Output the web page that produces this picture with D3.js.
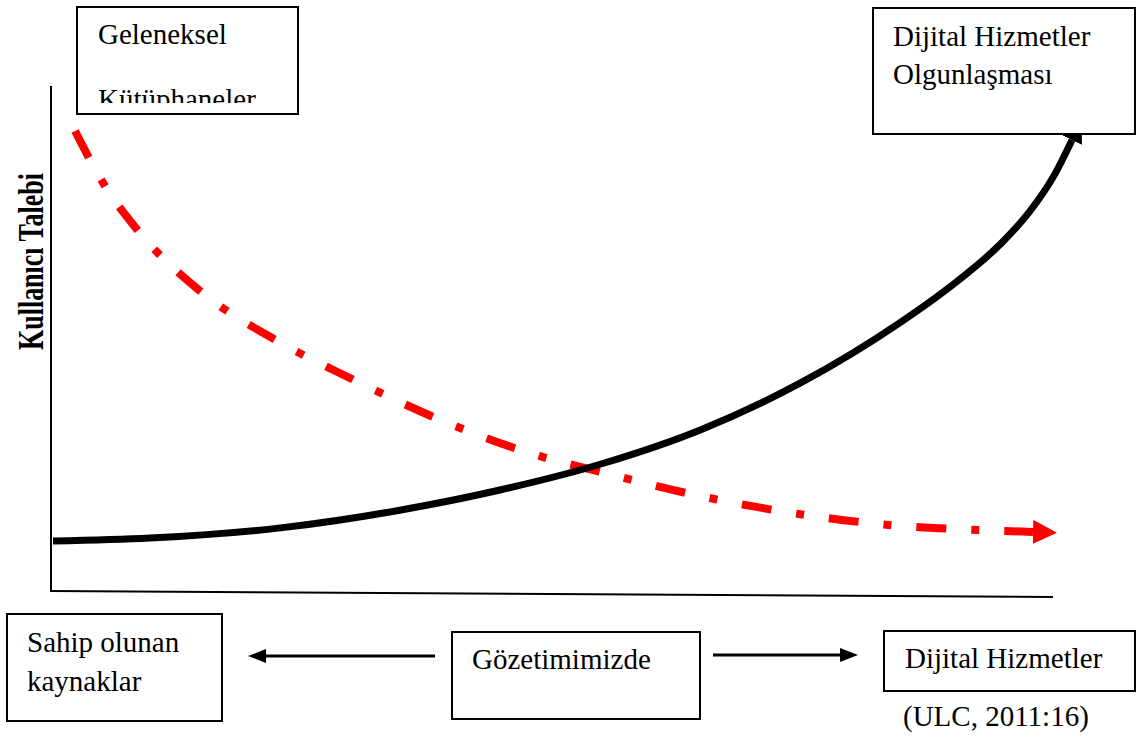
<!DOCTYPE html>
<html>
<head>
<meta charset="utf-8">
<script src="https://cdn.jsdelivr.net/npm/d3@7"></script>
<style>
  html, body { margin: 0; padding: 0; background: #fff; }
  svg { display: block; }
</style>
</head>
<body>
<svg id="chart" width="1137" height="738"></svg>
<script>
// ---- data (conceptual units: x = time 0..100, y = user demand 0..100) ----
const digitalX = [0.2, 9.9, 22.9, 34.8, 44.8, 54.8, 64.8, 74.8, 84.7, 89.7, 94.7, 97.7, 100.2, 101.9];
const digitalY = [9.9, 10.5, 12.5, 16.0, 20.0, 25.1, 31.9, 41.2, 53.1, 60.2, 68.6, 75.2, 82.6, 89.3];

const traditionalX = [2.4, 5.2, 8.7, 15.0, 22.6, 29.8, 39.8, 48.8, 54.8, 64.8, 74.8, 84.7, 92.4, 98.0];
const traditionalY = [91.1, 80.8, 71.3, 59.2, 49.5, 42.2, 33.1, 26.7, 23.6, 18.8, 15.2, 12.9, 12.1, 11.7];

const yAxisLabel = "Kullanıcı Talebi";
const topLeftLines = ["Geleneksel", "Kütüphaneler"];
const topRightLines = ["Dijital Hizmetler", "Olgunlaşması"];
const bottomLeftLines = ["Sahip olunan", "kaynaklar"];
const bottomMidLines = ["Gözetimimizde"];
const bottomRightLines = ["Dijital Hizmetler"];
const sourceText = "(ULC, 2011:16)";

// ---- layout ----
const svg = d3.select("#chart");
const FONT = "'Liberation Serif', 'Times New Roman', serif";
const FS = 29;

const x = d3.scaleLinear().domain([0, 100]).range([51, 1053]);
const y = d3.scaleLinear().domain([0, 100]).range([591, 86]);

const defs = svg.append("defs");
defs.append("marker")
  .attr("id", "arrowRed")
  .attr("markerUnits", "userSpaceOnUse")
  .attr("viewBox", "0 -12 24 24")
  .attr("refX", 0).attr("refY", 0)
  .attr("markerWidth", 24).attr("markerHeight", 24)
  .attr("orient", "auto")
  .append("path").attr("d", "M0,-12L24,0L0,12Z").attr("fill", "#ff0000");

defs.append("marker")
  .attr("id", "arrowBlack")
  .attr("markerUnits", "userSpaceOnUse")
  .attr("viewBox", "0 -11 22 22")
  .attr("refX", 0).attr("refY", 0)
  .attr("markerWidth", 22).attr("markerHeight", 22)
  .attr("orient", "auto")
  .append("path").attr("d", "M0,-11L22,0L0,11Z").attr("fill", "#000");

defs.append("marker")
  .attr("id", "arrowSmall")
  .attr("markerUnits", "userSpaceOnUse")
  .attr("viewBox", "0 -7 18 14")
  .attr("refX", 0).attr("refY", 0)
  .attr("markerWidth", 18).attr("markerHeight", 14)
  .attr("orient", "auto")
  .append("path").attr("d", "M0,-7L18,0L0,7Z").attr("fill", "#000");

// ---- axes ----
svg.append("line")
  .attr("x1", x(0)).attr("y1", y(100))
  .attr("x2", x(0)).attr("y2", y(0))
  .attr("stroke", "#000").attr("stroke-width", 2);
svg.append("line")
  .attr("x1", x(0) - 1).attr("y1", y(0))
  .attr("x2", x(100)).attr("y2", y(0) + 6)
  .attr("stroke", "#000").attr("stroke-width", 2);

// y-axis label
svg.append("text")
  .attr("transform", `translate(43, 350) rotate(-90)`)
  .attr("font-family", FONT)
  .attr("font-weight", "bold")
  .attr("font-size", 35)
  .attr("textLength", 177)
  .attr("lengthAdjust", "spacingAndGlyphs")
  .text(yAxisLabel);

// ---- curves ----
const line = d3.line()
  .x(d => x(d[0])).y(d => y(d[1]))
  .curve(d3.curveMonotoneX);

const tradData = traditionalX.map((v, i) => [v, traditionalY[i]]);
const digData = digitalX.map((v, i) => [v, digitalY[i]]);

svg.append("path")
  .datum(tradData)
  .attr("d", line)
  .attr("fill", "none")
  .attr("stroke", "#ff0000")
  .attr("stroke-width", 8)
  .attr("stroke-dasharray", "30,25,8,25")
  .attr("stroke-linecap", "butt")
  .attr("marker-end", "url(#arrowRed)");

svg.append("path")
  .datum(digData)
  .attr("d", line)
  .attr("fill", "none")
  .attr("stroke", "#000")
  .attr("stroke-width", 7)
  .attr("stroke-linecap", "butt")
  .attr("marker-end", "url(#arrowBlack)");

// ---- boxes ----
function box(bx, by, bw, bh, lines, tx, ty, lh, clip) {
  const g = svg.append("g");
  g.append("rect")
    .attr("x", bx).attr("y", by).attr("width", bw).attr("height", bh)
    .attr("fill", "#fff").attr("stroke", "#000").attr("stroke-width", 2);
  let tg = g;
  if (clip) {
    const id = "clip" + Math.round(bx) + "_" + Math.round(by);
    defs.append("clipPath").attr("id", id)
      .append("rect").attr("x", bx + 1).attr("y", by + 1).attr("width", bw - 2).attr("height", bh - 12);
    tg = g.append("g").attr("clip-path", `url(#${id})`);
  }
  tg.selectAll("text.l").data(lines).join("text")
    .attr("class", "l")
    .attr("x", tx)
    .attr("y", (d, i) => ty + i * lh)
    .attr("font-family", FONT)
    .attr("font-size", FS)
    .attr("fill", "#000")
    .text(d => d);
}

box(77, 7, 221, 107, topLeftLines, 98, 44, 65, true);
box(873, 8, 262, 126, topRightLines, 893, 46, 38, false);
box(7, 614, 215, 107, bottomLeftLines, 27, 652, 39, false);
box(452, 632, 248, 87, bottomMidLines, 472, 669, 38, false);
box(884, 631, 251, 60, bottomRightLines, 905, 668, 38, false);

// horizontal arrows between boxes
svg.append("line")
  .attr("x1", 435).attr("y1", 656).attr("x2", 266).attr("y2", 656)
  .attr("stroke", "#000").attr("stroke-width", 3)
  .attr("marker-end", "url(#arrowSmall)");
svg.append("line")
  .attr("x1", 713).attr("y1", 655).attr("x2", 840).attr("y2", 655)
  .attr("stroke", "#000").attr("stroke-width", 3)
  .attr("marker-end", "url(#arrowSmall)");

// source
svg.append("text")
  .attr("x", 903).attr("y", 726)
  .attr("font-family", FONT)
  .attr("font-size", FS)
  .text(sourceText);
</script>
</body>
</html>
